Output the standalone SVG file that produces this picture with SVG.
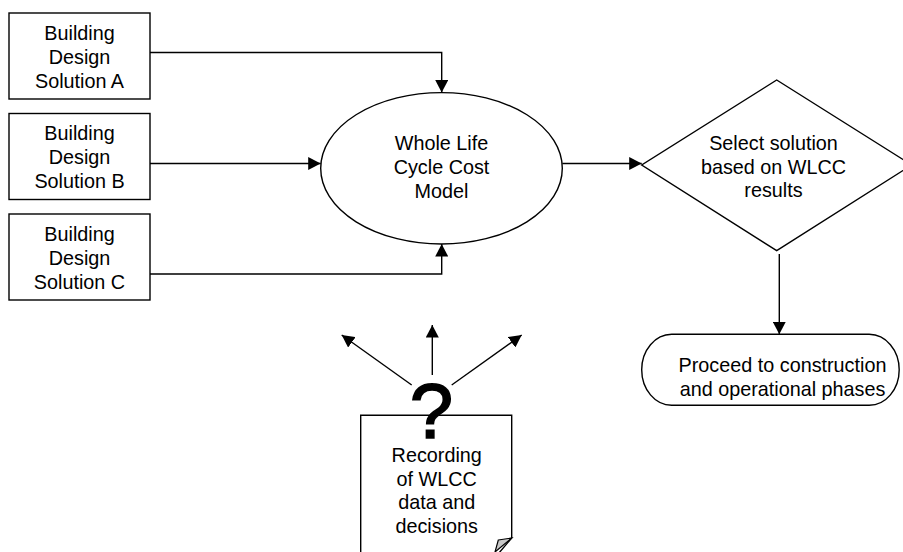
<svg xmlns="http://www.w3.org/2000/svg" width="903" height="552" viewBox="0 0 903 552">
<style>
.shape{fill:#fff;stroke:#000;stroke-width:1.4}
.t{font-family:"Liberation Sans",Arial,sans-serif;font-size:19.8px;fill:#000;text-anchor:middle}
.c{fill:none;stroke:#000;stroke-width:1.4}
</style>
<defs>
<marker id="ah" markerUnits="userSpaceOnUse" markerWidth="13" markerHeight="13" refX="12.5" refY="6.5" orient="auto">
<path d="M0,0 L12.5,6.5 L0,13 Z" fill="#000"/>
</marker>
</defs>
<rect width="903" height="552" fill="#fff"/>
<g id="boxA">
<rect class="shape" x="9" y="13" width="141" height="86"/>
<text class="t" x="79.5" y="39.5">Building</text>
<text class="t" x="79.5" y="63.5">Design</text>
<text class="t" x="79.5" y="87.5">Solution A</text>
</g>
<g id="boxB">
<rect class="shape" x="9" y="113.5" width="141" height="86"/>
<text class="t" x="79.5" y="140">Building</text>
<text class="t" x="79.5" y="164">Design</text>
<text class="t" x="79.5" y="188">Solution B</text>
</g>
<g id="boxC">
<rect class="shape" x="9" y="214" width="141" height="86"/>
<text class="t" x="79.5" y="240.7">Building</text>
<text class="t" x="79.5" y="264.7">Design</text>
<text class="t" x="79.5" y="288.7">Solution C</text>
</g>
<g id="model">
<ellipse class="shape" cx="441.5" cy="168.3" rx="120.8" ry="75.7"/>
<text class="t" x="441.5" y="149.5">Whole Life</text>
<text class="t" x="441.5" y="173.5">Cycle Cost</text>
<text class="t" x="441.5" y="197.5">Model</text>
</g>
<g id="select">
<polygon class="shape" points="776.7,80 911.7,165 776.7,250.7 641.7,165"/>
<text class="t" x="773.5" y="149.5">Select solution</text>
<text class="t" x="773.5" y="173.5">based on WLCC</text>
<text class="t" x="773.5" y="197">results</text>
</g>
<g id="proceed">
<rect class="shape" x="641.7" y="334.3" width="257.5" height="71" rx="30" ry="35.5"/>
<text class="t" x="782.5" y="371.5">Proceed to construction</text>
<text class="t" x="782.5" y="395.5">and operational phases</text>
</g>
<g id="record">
<path class="shape" d="M360.7,560 V415.3 H511.7 V538 L493,560 Z"/>
<polygon points="498.3,540 511.7,538 495,552" fill="#c8c8c8" stroke="#000" stroke-width="1.2"/>
<text class="t" x="436.7" y="461.7">Recording</text>
<text class="t" x="436.7" y="485.5">of WLCC</text>
<text class="t" x="436.7" y="509.3">data and</text>
<text class="t" x="436.7" y="533">decisions</text>
</g>
<g id="question">
<text x="431.5" y="438.3" font-family="Liberation Sans,Arial,sans-serif" font-size="78" stroke="#000" stroke-width="1.6" text-anchor="middle" fill="#000">?</text>
</g>
<g id="connectors">
<path class="c" d="M150,52.5 H441.7 V92.5" marker-end="url(#ah)"/>
<path class="c" d="M150,163.5 H320.7" marker-end="url(#ah)"/>
<path class="c" d="M150,274 H441.7 V244" marker-end="url(#ah)"/>
<path class="c" d="M562.3,163.5 H641.7" marker-end="url(#ah)"/>
<path class="c" d="M779.3,254 V334.3" marker-end="url(#ah)"/>
<path class="c" d="M411.7,385 L341.7,335" marker-end="url(#ah)"/>
<path class="c" d="M432.3,375 V325" marker-end="url(#ah)"/>
<path class="c" d="M451.7,385 L521.7,335" marker-end="url(#ah)"/>
</g>
</svg>
